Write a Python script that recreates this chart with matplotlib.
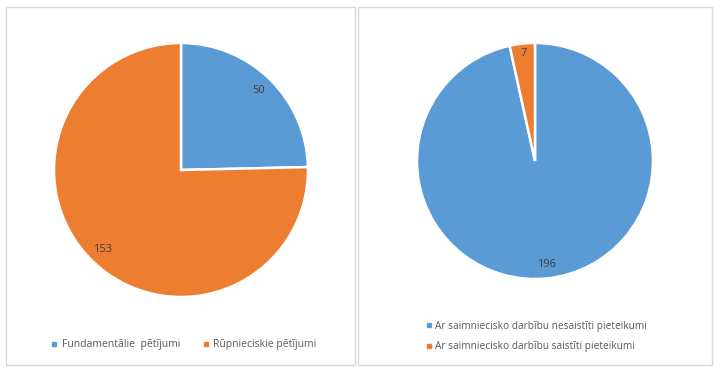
import matplotlib
matplotlib.use("Agg")
import matplotlib.pyplot as plt
from matplotlib.patches import Rectangle
from matplotlib.lines import Line2D

plt.rcParams['font.family'] = ['Open Sans', 'DejaVu Sans']

left_labels = ["Fundamentālie  pētījumi", "Rūpnieciskie pētījumi"]
left_values = [50, 153]
right_labels = ["Ar saimniecisko darbību nesaistīti pieteikumi",
                "Ar saimniecisko darbību saistīti pieteikumi"]
right_values = [196, 7]

BLUE = "#5B9BD5"
ORANGE = "#ED7D31"
colors = [BLUE, ORANGE]
TXT = "#404040"
LEG = "#595959"

W, H = 720, 374
fig = plt.figure(figsize=(W / 100, H / 100), dpi=100)
fig.patch.set_facecolor("white")

def px_axes(cx, cy, r):
    return fig.add_axes([(cx - r) / W, (H - cy - r) / H, 2 * r / W, 2 * r / H])

# panel borders
for (x0, y0, x1, y1) in [(6, 7, 355, 365), (358, 7, 712, 365)]:
    fig.patches.append(Rectangle((x0 / W, 1 - y1 / H), (x1 - x0) / W, (y1 - y0) / H,
                                 transform=fig.transFigure, fill=False,
                                 edgecolor="#D9D9D9", linewidth=1.0))

def draw_pie(ax, values, dist):
    wedges, texts = ax.pie(values, colors=colors, startangle=90, counterclock=False,
                           labels=[str(v) for v in values], labeldistance=dist,
                           wedgeprops=dict(edgecolor="white", linewidth=1.8),
                           textprops=dict(color=TXT, fontsize=8, ha="center", va="center"))
    for t in texts:
        t.set_ha("center")
        t.set_va("center")
    ax.set_xlim(-1, 1)
    ax.set_ylim(-1, 1)
    ax.set_aspect("equal")
    ax.axis("off")
    return wedges

ax1 = px_axes(181, 170, 127)
draw_pie(ax1, left_values, 0.88)

ax2 = px_axes(535, 161, 118)
draw_pie(ax2, right_values, 0.88)
x7, y7 = ax2.texts[1].get_position()
ax2.texts[1].set_position((x7, y7 * 1.04))

def handle(c):
    return Line2D([], [], marker="s", linestyle="none", markersize=3.5,
                  markerfacecolor=c, markeredgecolor=c)

fig.legend([handle(c) for c in colors], left_labels, ncol=2,
           loc="center", bbox_to_anchor=(184 / W, 1 - 345 / H),
           frameon=False, fontsize=7.5, handlelength=0.6, handletextpad=0.4,
           columnspacing=2.2, labelcolor=LEG)

fig.legend([handle(c) for c in colors], right_labels, ncol=1,
           loc="center left", bbox_to_anchor=(417 / W, 1 - 336.5 / H),
           frameon=False, fontsize=7.3, handlelength=0.6, handletextpad=0.3,
           labelspacing=0.95, labelcolor=LEG)

fig.savefig("out.png", dpi=100, facecolor="white")
